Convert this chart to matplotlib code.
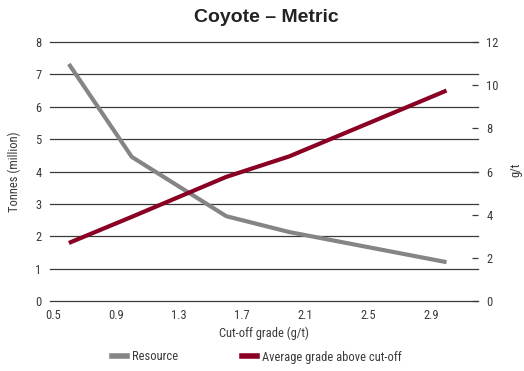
import matplotlib
matplotlib.use("Agg")
import matplotlib.pyplot as plt
from matplotlib.lines import Line2D

cutoff = [0.6, 1.0, 1.6, 2.0, 3.0]
resource = [7.32, 4.45, 2.62, 2.13, 1.2]
avg_grade = [2.69, 3.9, 5.75, 6.7, 9.75]
x_ticks = [0.5, 0.9, 1.3, 1.7, 2.1, 2.5, 2.9]
left_ticks = [0, 1, 2, 3, 4, 5, 6, 7, 8]
right_ticks = [0, 2, 4, 6, 8, 10, 12]

narrow = ["Roboto Condensed", "Liberation Sans", "DejaVu Sans"]

W, H = 524, 371
fig = plt.figure(figsize=(W / 100, H / 100), dpi=100)
ax = fig.add_axes([50 / W, 1 - 301 / H, (478 - 50) / W, (301 - 42) / H])
ax2 = ax.twinx()

gray = "#858585"
red = "#8a0024"
txt = "#3a3a3a"

ax.plot(cutoff, resource, color=gray, lw=3.0, solid_capstyle="butt", zorder=3)
ax2.plot(cutoff, avg_grade, color=red, lw=3.0, solid_capstyle="butt", zorder=3)

ax.set_xlim(0.48, 3.2)
ax.set_ylim(0, 8)
ax2.set_ylim(0, 12)
ax.set_xticks(x_ticks)
ax.set_xticklabels([f"{v:.1f}" for v in x_ticks])
ax.set_yticks(left_ticks)
ax2.set_yticks(right_ticks)

for y in left_ticks:
    ax.axhline(y, color="#3a3a3a", lw=0.9, zorder=1, clip_on=False)

for a in (ax, ax2):
    for s in a.spines.values():
        s.set_visible(False)

fs = 9
ax.tick_params(axis="x", length=0, pad=6, labelsize=fs, labelcolor=txt)
ax.tick_params(axis="y", length=0, pad=6, labelsize=fs, labelcolor=txt)
ax2.tick_params(axis="y", direction="in", length=4.5, width=0.9, color="#3a3a3a",
                pad=6, labelsize=fs, labelcolor=txt)
for lab in ax.get_xticklabels() + ax.get_yticklabels() + ax2.get_yticklabels():
    lab.set_family(narrow)

ax.set_xlabel("Cut-off grade (g/t)", fontsize=fs, family=narrow, color=txt, labelpad=3)
ax.set_ylabel("Tonnes (million)", fontsize=fs, family=narrow, color=txt)
ax.yaxis.set_label_coords((21 - 50) / (478 - 50), 0.5)
ax2.set_ylabel("g/t", fontsize=fs, family=narrow, color=txt)
ax2.yaxis.set_label_coords((509 - 50) / (478 - 50), (301 - 170) / (301 - 42))

fig.text(266 / W, 1 - 18 / H, "Coyote \u2013 Metric", ha="center", va="center",
         fontsize=14, fontweight="bold", family="Liberation Sans", color="#222222")

handles = [Line2D([0], [0], color=gray, lw=4), Line2D([0], [0], color=red, lw=4)]
leg = fig.legend(handles, ["Resource", "Average grade above cut-off"],
                 loc="center", bbox_to_anchor=(257 / W, 1 - 357 / H), ncol=2,
                 frameon=False, handlelength=1.2, handletextpad=0.4, columnspacing=5.1,
                 prop={"family": narrow, "size": fs})
for t in leg.get_texts():
    t.set_color(txt)

fig.savefig("out.png", dpi=100)
